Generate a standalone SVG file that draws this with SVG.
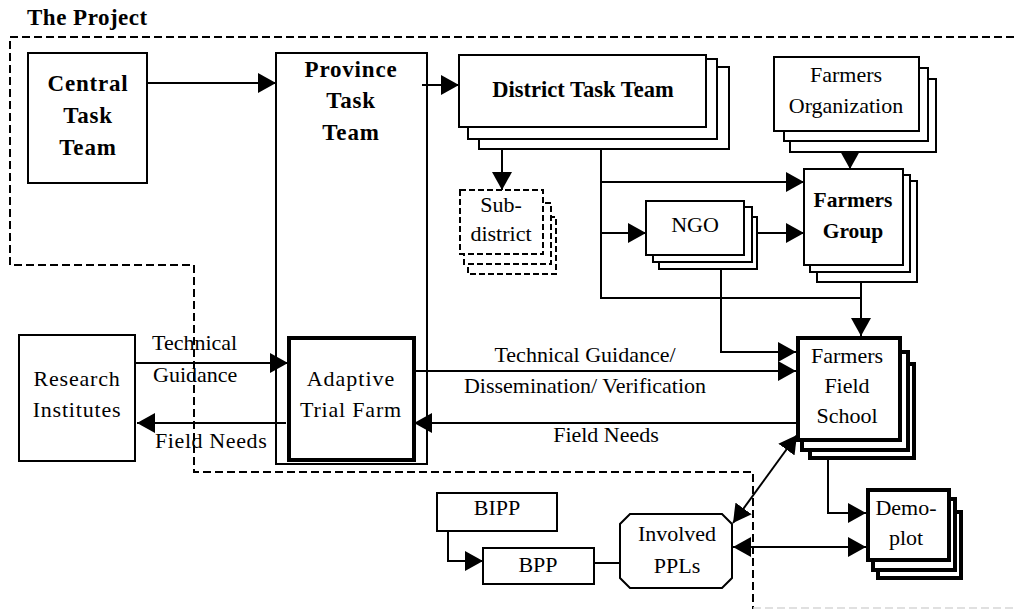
<svg xmlns="http://www.w3.org/2000/svg" width="1014" height="609" viewBox="0 0 1014 609">
  <style>
    text { font-family: "Liberation Serif", "Times New Roman", serif; fill: #000; }
    .r { font-size: 22px; }
    .b { font-size: 23px; font-weight: bold; }
    .c { text-anchor: middle; }
    .sp { letter-spacing: 0.8px; }
    .box { fill: #fff; stroke: #000; stroke-width: 2; }
    .thick { fill: #fff; stroke: #000; stroke-width: 4; }
    .dbox { fill: #fff; stroke: #000; stroke-width: 2; stroke-dasharray: 6 3; }
    .bound { fill: none; stroke: #000; stroke-width: 2; stroke-dasharray: 8 4; }
    .ln { fill: none; stroke: #000; stroke-width: 2; }
    .arr { marker-end: url(#ah); }
    .both { marker-start: url(#ah); marker-end: url(#ah); }
  </style>
  <defs>
    <marker id="ah" markerUnits="userSpaceOnUse" markerWidth="19" markerHeight="20" refX="18" refY="10" orient="auto-start-reverse" viewBox="0 0 19 20">
      <path d="M0,0 L18,10 L0,20 z" fill="#000"/>
    </marker>
  </defs>

  <rect width="1014" height="609" fill="#fff"/>

  <!-- project boundary -->
  <g id="boundary">
    <text x="27" y="25" class="b" style="letter-spacing:0.5px">The Project</text>
    <path class="bound" d="M1014 37 H10 V265 H194 V472 H753 V609"/>
    <path d="M753 608 H1014" fill="none" stroke="#d6d6d6" stroke-width="1.5" stroke-dasharray="8 4"/>
  </g>

  <!-- connectors -->
  <g id="connectors">
    <path class="ln arr" d="M142 83 H276"/>
    <path class="ln arr" d="M422 85 H459"/>
    <path class="ln arr" d="M502 127 V190"/>
    <path class="ln" d="M601 124 V298 H861"/>
    <path class="ln arr" d="M601 182 H804"/>
    <path class="ln arr" d="M601 233 H646"/>
    <path class="ln arr" d="M744 233 H804"/>
    <path class="ln arr" d="M850 127 V169"/>
    <path class="ln arr" d="M861 261 V336"/>
    <path class="ln arr" d="M721 255 V352 H796"/>
    <path class="ln arr" d="M412 371 H796"/>
    <path class="ln arr" d="M796 423 H414"/>
    <path class="ln arr" d="M135 363 H288"/>
    <path class="ln arr" d="M286 423 H137"/>
    <path class="ln both" d="M797 435 L733 523"/>
    <path class="ln both" d="M733 547 H866"/>
    <path class="ln arr" d="M828 440 V513 H866"/>
    <path class="ln arr" d="M448 531 V561 H483"/>
    <path class="ln" d="M594 563 H620"/>
  </g>

  <!-- connector labels -->
  <g id="labels">
    <text x="152" y="350" class="r">Technical</text>
    <text x="153" y="382" class="r">Guidance</text>
    <text x="155" y="448" class="r" style="letter-spacing:0.6px">Field Needs</text>
    <text x="585" y="362" class="r c">Technical Guidance/</text>
    <text x="585" y="393" class="r c">Dissemination/ Verification</text>
    <text x="606" y="442" class="r c">Field Needs</text>
  </g>

  <g id="central-task-team">
    <rect class="box" x="28" y="53" width="119" height="130"/>
    <text x="88" y="91" class="b c sp">Central</text>
    <text x="88" y="123" class="b c sp">Task</text>
    <text x="88" y="155" class="b c sp">Team</text>
  </g>

  <g id="province-task-team">
    <rect class="box" x="276" y="53" width="151" height="411" fill="none" style="fill:none"/>
    <text x="351" y="77" class="b c sp">Province</text>
    <text x="351" y="108" class="b c sp">Task</text>
    <text x="351" y="140" class="b c sp">Team</text>
  </g>

  <g id="district-task-team">
    <rect class="box" x="479" y="67" width="250" height="82"/>
    <rect class="box" x="468" y="59" width="249" height="80"/>
    <rect class="box" x="459" y="55" width="247" height="72"/>
    <text x="583" y="97" class="b c" style="font-size:22.5px">District Task Team</text>
  </g>

  <g id="sub-district">
    <rect class="dbox" x="468" y="217" width="88" height="57"/>
    <rect class="dbox" x="464" y="203" width="87" height="61"/>
    <rect class="dbox" x="460" y="190" width="83" height="64"/>
    <text x="501" y="212" class="r c">Sub-</text>
    <text x="501" y="241" class="r c">district</text>
  </g>

  <g id="ngo">
    <rect class="box" x="659" y="217" width="98" height="52"/>
    <rect class="box" x="653" y="207" width="99" height="55"/>
    <rect class="box" x="646" y="201" width="98" height="54"/>
    <text x="695" y="232" class="r c">NGO</text>
  </g>

  <g id="farmers-organization">
    <rect class="box" x="790" y="79" width="146" height="73"/>
    <rect class="box" x="784" y="68" width="144" height="73"/>
    <rect class="box" x="774" y="57" width="145" height="74"/>
    <text x="846" y="82" class="r c">Farmers</text>
    <text x="846" y="113" class="r c">Organization</text>
  </g>

  <g id="farmers-group">
    <rect class="box" x="817" y="181" width="100" height="101"/>
    <rect class="box" x="810" y="175" width="100" height="97"/>
    <rect class="box" x="804" y="169" width="99" height="96"/>
    <text x="853" y="207" class="b c" style="font-size:21.5px">Farmers</text>
    <text x="853" y="238" class="b c" style="font-size:21.5px">Group</text>
  </g>

  <g id="research-institutes">
    <rect class="box" x="19" y="335" width="116" height="126"/>
    <text x="77" y="386" class="r c sp">Research</text>
    <text x="77" y="417" class="r c sp">Institutes</text>
  </g>

  <g id="adaptive-trial-farm">
    <rect class="thick" x="289" y="338" width="125" height="122"/>
    <text x="351" y="386" class="r c" style="letter-spacing:1px">Adaptive</text>
    <text x="351" y="417" class="r c" style="letter-spacing:0.8px">Trial Farm</text>
  </g>

  <g id="farmers-field-school">
    <rect class="thick" x="810" y="364" width="104" height="94"/>
    <rect class="thick" x="802" y="352" width="106" height="98"/>
    <rect class="thick" x="798" y="338" width="102" height="102"/>
    <text x="847" y="363" class="r c">Farmers</text>
    <text x="847" y="393" class="r c">Field</text>
    <text x="847" y="423" class="r c">School</text>
  </g>

  <g id="demo-plot">
    <rect class="thick" x="878" y="512" width="83" height="66"/>
    <rect class="thick" x="873" y="499" width="82" height="71"/>
    <rect class="thick" x="868" y="490" width="81" height="70"/>
    <text x="906" y="515" class="r c">Demo-</text>
    <text x="906" y="545" class="r c">plot</text>
  </g>

  <g id="bipp">
    <rect class="box" x="437" y="493" width="120" height="38"/>
    <text x="497" y="515" class="r c">BIPP</text>
  </g>

  <g id="bpp">
    <rect class="box" x="483" y="548" width="111" height="36"/>
    <text x="538" y="572" class="r c">BPP</text>
  </g>

  <g id="involved-ppls">
    <path class="box" d="M630 514 H722 L732 524 V578 L722 588 H630 L620 578 V524 Z"/>
    <text x="677" y="541" class="r c">Involved</text>
    <text x="677" y="573" class="r c">PPLs</text>
  </g>
</svg>
